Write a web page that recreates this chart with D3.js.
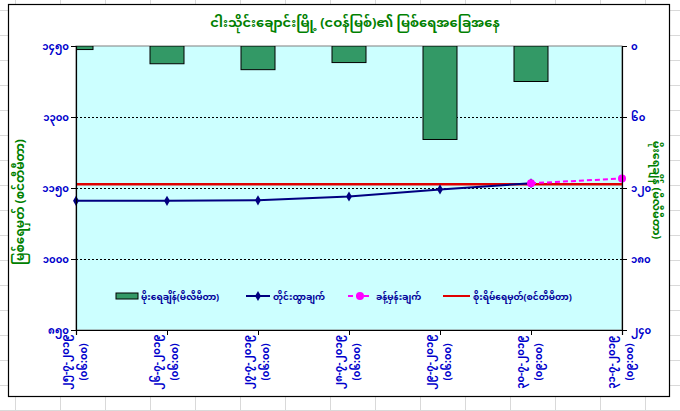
<!DOCTYPE html>
<html>
<head>
<meta charset="utf-8">
<script src="https://cdn.jsdelivr.net/npm/d3@7"></script>
<style>
  body { margin: 0; background: #fff; }
  svg text { font-family: "Noto Sans Myanmar", "Padauk", "Myanmar Text", "Noto Sans", sans-serif; }
</style>
</head>
<body>
<div id="chart"></div>
<script>
// chart data
const dates = ["၂၅-၇-၂၀၁၉", "၂၆-၇-၂၀၁၉", "၂၇-၇-၂၀၁၉", "၂၈-၇-၂၀၁၉", "၂၉-၇-၂၀၁၉", "၃၀-၇-၂၀၁၉", "၃၁-၇-၂၀၁၉"];
const times = ["(၀၆:၀၀)", "(၀၆:၀၀)", "(၀၆:၀၀)", "(၀၆:၀၀)", "(၀၆:၀၀)", "(၀၉:၀၀)", "(၀၉:၀၀)"];
const rainfall = [3, 15, 20, 14, 79, 30, null];
const observed = [1123, 1123, 1124, 1132, 1147, 1160, null];
const forecast = [null, null, null, null, null, 1160, 1170];
const dangerLevel = 1158;
const levelTicks = [850, 1000, 1150, 1300, 1450];
const rainTicks = [0, 60, 120, 180, 240];
const legendLabels = ["မိုးရေချိန်(မီလီမီတာ)", "တိုင်းထွာချက်", "ခန့်မှန်းချက်", "စိုးရိမ်ရေမှတ်(စင်တီမီတာ)"];

const title = "ငါးသိုင်းချောင်းမြို့ (ငဝန်မြစ်)၏ မြစ်ရေအခြေအနေ";
const leftTitle = "မြစ်ရေမှတ် (စင်တီမီတာ)";
const rightTitle = "မိုးရေချိန် (မီလီမီတာ)";

// convert western digits to Myanmar digits
const mmDigits = "၀၁၂၃၄၅၆၇၈၉";
const toMM = n => String(n).replace(/[0-9]/g, d => mmDigits[+d]);

const width = 680, height = 411;
const plotL = 76, plotR = 622, plotT = 46, plotB = 330;
const blue = "#0000cc", green = "#008000";

const svg = d3.select("#chart")
    .append("svg")
    .attr("width", width)
    .attr("height", height);

// spreadsheet cells behind the chart
const cells = svg.append("g").attr("stroke", "#d9d9d9").attr("stroke-width", 1);
for (let cx = 15; cx < width; cx += 45) {
    cells.append("line").attr("x1", cx + 0.5).attr("x2", cx + 0.5).attr("y1", 0).attr("y2", height);
}
for (let cy = 10; cy < height; cy += 25) {
    cells.append("line").attr("x1", 0).attr("x2", width).attr("y1", cy + 0.5).attr("y2", cy + 0.5);
}

// chart area
svg.append("rect")
    .attr("x", 8.5).attr("y", 4.5)
    .attr("width", 661).attr("height", 392)
    .attr("fill", "#fff")
    .attr("stroke", "#000")
    .attr("stroke-width", 1.2);

const x = d3.scalePoint().domain(dates).range([plotL, plotR]);
const yLevel = d3.scaleLinear().domain([850, 1450]).range([plotB, plotT]);
const yRain = d3.scaleLinear().domain([0, 240]).range([plotT, plotB]);

// plot area
svg.append("rect")
    .attr("x", plotL).attr("y", plotT)
    .attr("width", plotR - plotL).attr("height", plotB - plotT)
    .attr("fill", "#ccffff")
    .attr("stroke", "#808080");

svg.append("clipPath").attr("id", "plotclip")
    .append("rect")
    .attr("x", plotL).attr("y", plotT)
    .attr("width", plotR - plotL).attr("height", plotB - plotT);

// dotted gridlines
svg.append("g")
    .selectAll("line")
    .data(levelTicks.slice(1, -1))
    .enter()
    .append("line")
    .attr("x1", plotL).attr("x2", plotR)
    .attr("y1", d => Math.round(yLevel(d)) + 0.5)
    .attr("y2", d => Math.round(yLevel(d)) + 0.5)
    .attr("stroke", "#000")
    .attr("stroke-dasharray", "2,2");

// rainfall bars hanging from the top
const barW = 34;
svg.append("g")
    .attr("clip-path", "url(#plotclip)")
    .selectAll("rect")
    .data(dates.map((d, i) => ({ d, v: rainfall[i] })).filter(p => p.v != null))
    .enter()
    .append("rect")
    .attr("x", p => x(p.d) - barW / 2)
    .attr("y", yRain(0))
    .attr("width", barW)
    .attr("height", p => yRain(p.v) - yRain(0))
    .attr("fill", "#339966")
    .attr("stroke", "#000")
    .attr("stroke-width", 1);

// danger level
svg.append("line")
    .attr("x1", plotL).attr("x2", plotR)
    .attr("y1", yLevel(dangerLevel)).attr("y2", yLevel(dangerLevel))
    .attr("stroke", "#e00000")
    .attr("stroke-width", 2.5);

const line = d3.line()
    .defined(p => p.v != null)
    .x(p => x(p.d))
    .y(p => yLevel(p.v));

const obsPts = dates.map((d, i) => ({ d, v: observed[i] }));
const fcPts = dates.map((d, i) => ({ d, v: forecast[i] }));

svg.append("path")
    .datum(fcPts)
    .attr("d", line)
    .attr("fill", "none")
    .attr("stroke", "#ff00ff")
    .attr("stroke-width", 2)
    .attr("stroke-dasharray", "5,3");

svg.append("path")
    .datum(obsPts)
    .attr("d", line)
    .attr("fill", "none")
    .attr("stroke", "#000080")
    .attr("stroke-width", 2);

const diamond = d3.symbol().type(d3.symbolDiamond).size(30);
svg.append("g")
    .selectAll("path")
    .data(obsPts.filter(p => p.v != null))
    .enter()
    .append("path")
    .attr("d", diamond)
    .attr("transform", p => `translate(${x(p.d)},${yLevel(p.v)})`)
    .attr("fill", "#000080");

svg.append("g")
    .selectAll("circle")
    .data(fcPts.filter(p => p.v != null))
    .enter()
    .append("circle")
    .attr("cx", p => x(p.d))
    .attr("cy", p => yLevel(p.v))
    .attr("r", 4)
    .attr("fill", "#ff00ff");

// axes
const leftAxis = svg.append("g")
    .attr("transform", `translate(${plotL},0)`)
    .call(d3.axisLeft(yLevel).tickValues(levelTicks).tickSize(5).tickFormat(toMM));

const rightAxis = svg.append("g")
    .attr("transform", `translate(${plotR},0)`)
    .call(d3.axisRight(yRain).tickValues(rainTicks).tickSize(5).tickFormat(toMM));

const bottomAxis = svg.append("g")
    .attr("transform", `translate(0,${plotB})`)
    .call(d3.axisBottom(x).tickSize(5).tickFormat(""));

[leftAxis, rightAxis, bottomAxis].forEach(g => {
    g.select(".domain").attr("stroke", "#000").attr("stroke-width", 1.2);
    g.selectAll(".tick line").attr("stroke", "#000");
    g.selectAll(".tick text")
        .attr("fill", blue)
        .style("font-size", "10px")
        .style("font-weight", "bold");
});
leftAxis.selectAll(".tick text").attr("x", -7);
rightAxis.selectAll(".tick text").attr("x", 9);

// rotated two-line category labels
const xLabels = svg.append("g")
    .selectAll("g")
    .data(dates)
    .enter()
    .append("g")
    .attr("transform", d => `translate(${x(d)},362) rotate(-90)`);

xLabels.append("text")
    .attr("text-anchor", "middle")
    .attr("y", -7)
    .attr("fill", blue)
    .style("font-size", "10px")
    .style("font-weight", "bold")
    .text(d => d);

xLabels.append("text")
    .attr("text-anchor", "middle")
    .attr("y", 11)
    .attr("fill", blue)
    .style("font-size", "10px")
    .style("font-weight", "bold")
    .text((d, i) => times[i]);

// titles
svg.append("text")
    .attr("x", 355).attr("y", 27)
    .attr("text-anchor", "middle")
    .attr("fill", green)
    .style("font-size", "13px")
    .style("font-weight", "bold")
    .text(title);

svg.append("text")
    .attr("transform", "translate(24,202) rotate(-90)")
    .attr("text-anchor", "middle")
    .attr("fill", green)
    .style("font-size", "12px")
    .style("font-weight", "bold")
    .text(leftTitle);

svg.append("text")
    .attr("transform", "translate(653,190) rotate(90)")
    .attr("text-anchor", "middle")
    .attr("fill", green)
    .style("font-size", "11px")
    .style("font-weight", "bold")
    .text(rightTitle);

// legend
const legend = svg.append("g").attr("transform", "translate(0,296)");
const legendX = [116, 246, 348, 443];

legend.append("rect")
    .attr("x", legendX[0]).attr("y", -3)
    .attr("width", 22).attr("height", 6)
    .attr("fill", "#339966")
    .attr("stroke", "#000");

legend.append("line")
    .attr("x1", legendX[1]).attr("x2", legendX[1] + 24)
    .attr("stroke", "#000080").attr("stroke-width", 2);
legend.append("path")
    .attr("d", diamond)
    .attr("transform", `translate(${legendX[1] + 12},0)`)
    .attr("fill", "#000080");

legend.append("line")
    .attr("x1", legendX[2]).attr("x2", legendX[2] + 24)
    .attr("stroke", "#ff00ff").attr("stroke-width", 2)
    .attr("stroke-dasharray", "5,3");
legend.append("circle")
    .attr("cx", legendX[2] + 12).attr("r", 4)
    .attr("fill", "#ff00ff");

legend.append("line")
    .attr("x1", legendX[3]).attr("x2", legendX[3] + 27)
    .attr("stroke", "#e00000").attr("stroke-width", 2);

legend.selectAll("text")
    .data(legendLabels)
    .enter()
    .append("text")
    .attr("x", (d, i) => legendX[i] + [25, 27, 28, 30][i])
    .attr("y", 4)
    .attr("fill", "#000099")
    .style("font-size", "9px")
    .style("font-weight", "bold")
    .text(d => d);
</script>
</body>
</html>
